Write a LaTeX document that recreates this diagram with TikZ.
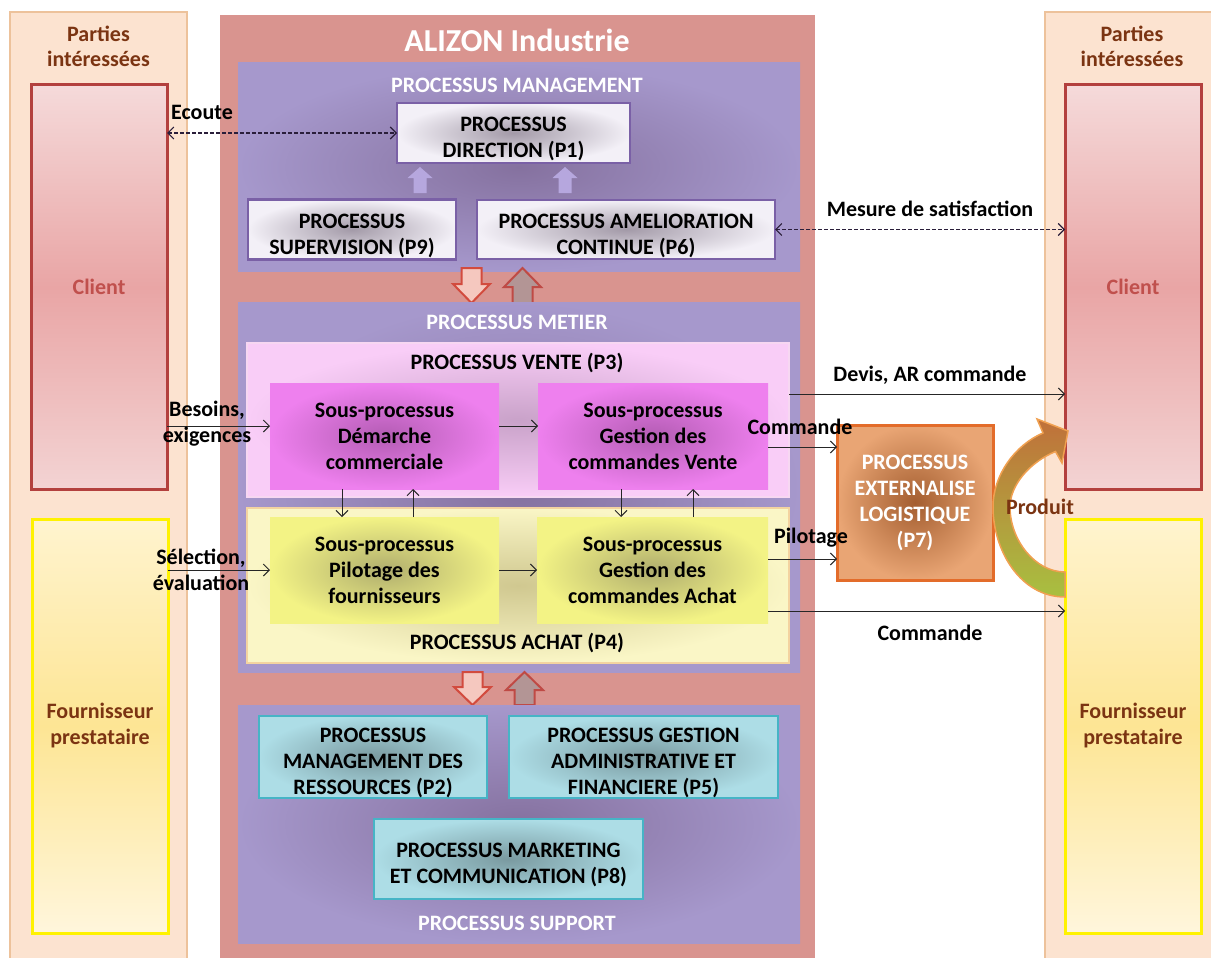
\documentclass[tikz,border=0pt]{standalone}
\usepackage{fontspec}
\setmainfont{Carlito}
\usetikzlibrary{arrows.meta}
\definecolor{alizon}{HTML}{D9948F}
\definecolor{partfill}{HTML}{FCE3D0}
\definecolor{partdraw}{HTML}{EDC29B}
\definecolor{brownT}{HTML}{7B3412}
\definecolor{clientT}{HTML}{C0504D}
\definecolor{clientD}{HTML}{B3403E}
\definecolor{cliTop}{HTML}{F5DADA}
\definecolor{cliMid}{HTML}{E9A5A5}
\definecolor{cliBot}{HTML}{F3D3D3}
\definecolor{foTop}{HTML}{FFF4CF}
\definecolor{foMid}{HTML}{FDE594}
\definecolor{foBot}{HTML}{FFF6DC}
\definecolor{mgmtIn}{HTML}{85719F}
\definecolor{mgmtOut}{HTML}{A698CC}
\definecolor{boxIn}{HTML}{A39AA8}
\definecolor{boxOut}{HTML}{F3F0F7}
\definecolor{boxD}{HTML}{7A60A6}
\definecolor{venIn}{HTML}{C9A2C9}
\definecolor{venOut}{HTML}{F9CDF7}
\definecolor{venD}{HTML}{F7D7F2}
\definecolor{demIn}{HTML}{B45CB4}
\definecolor{demOut}{HTML}{EE80EE}
\definecolor{achIn}{HTML}{D0C890}
\definecolor{achOut}{HTML}{FAF6C6}
\definecolor{achD}{HTML}{F3D3A0}
\definecolor{pilIn}{HTML}{B0AE6E}
\definecolor{pilOut}{HTML}{F3F385}
\definecolor{supIn}{HTML}{7A9AA0}
\definecolor{supOut}{HTML}{ADDDE6}
\definecolor{supD}{HTML}{46B4C6}
\definecolor{extIn}{HTML}{A45E30}
\definecolor{extOut}{HTML}{E9A574}
\definecolor{extD}{HTML}{E36C2A}
\definecolor{lavA}{HTML}{B6A7DE}
\definecolor{redF}{HTML}{F5C8BF}
\definecolor{redD}{HTML}{D24B3E}
\definecolor{upF}{HTML}{B39595}
\definecolor{upD}{HTML}{BF4A45}
\definecolor{dashC}{HTML}{2A1E3A}
\definecolor{prodTop}{HTML}{C0703A}
\definecolor{prodBot}{HTML}{A8C040}
\definecolor{prodD}{HTML}{F0A050}
\newcommand\blkdown[7]{\draw[#1] (#2-#5,#3) -- (#2+#5,#3) -- (#2+#5,#4-#7) -- (#2+#6,#4-#7) -- (#2,#4) -- (#2-#6,#4-#7) -- (#2-#5,#4-#7) -- cycle;}
\newcommand\blkup[7]{\draw[#1] (#2-#5,#4) -- (#2+#5,#4) -- (#2+#5,#3+#7) -- (#2+#6,#3+#7) -- (#2,#3) -- (#2-#6,#3+#7) -- (#2-#5,#3+#7) -- cycle;}
\newcommand\toppad{\rule{0pt}{27pt}}
\begin{document}
\begin{tikzpicture}[x=1pt,y=-1pt,
  every node/.style={font=\bfseries\fontsize{22}{26}\selectfont, inner sep=0pt, outer sep=0pt, align=center},
  wh/.style 2 args={minimum width=#1pt, minimum height=#2pt},
  partpanel/.style={fill=partfill, draw=partdraw, line width=1.5pt},
  clientbox/.style={draw=clientD, line width=3pt, top color=cliTop, bottom color=cliBot, middle color=cliMid, text=clientT},
  fournbox/.style={draw=yellow, line width=3pt, top color=foTop, bottom color=foBot, middle color=foMid, text=brownT},
  ptitle/.style={text=brownT, font=\bfseries\fontsize{22}{25}\selectfont},
  wtitle/.style={text=white},
  mgmtpanel/.style={inner color=mgmtIn, outer color=mgmtOut},
  mbox/.style={inner color=boxIn, outer color=boxOut, draw=boxD, line width=2.5pt},
  ventepanel/.style={inner color=venIn, outer color=venOut, draw=venD, line width=1.5pt},
  dembox/.style={inner color=demIn, outer color=demOut},
  achatpanel/.style={inner color=achIn, outer color=achOut, draw=achD, line width=1.5pt},
  pilbox/.style={inner color=pilIn, outer color=pilOut},
  sbox/.style={inner color=supIn, outer color=supOut, draw=supD, line width=2.5pt},
  extbox/.style={inner color=extIn, outer color=extOut, draw=extD, line width=3pt, text=white},
  conn/.style={-{Straight Barb[length=6pt,width=12pt]}, line width=1pt, draw=black!85},
  dconn/.style={{Straight Barb[length=6pt,width=12pt]}-{Straight Barb[length=6pt,width=12pt]}, dash pattern=on 3.5pt off 2.5pt, line width=1.1pt, draw=dashC},
  lavarrow/.style={fill=lavA, draw=none},
  reddown/.style={fill=redF, draw=redD, line width=2pt},
  redup/.style={fill=upF, draw=upD, line width=2pt}
]
\useasboundingbox (0,0) rectangle (1211,958);
\fill[white] (0,0) rectangle (1211,958);

% side panels
\node[partpanel, wh={177}{950}] (partiesL) at (98.5,487) {};
\node[ptitle] (ptL) at (98.5,46) {Parties\\intéressées};
\node[clientbox, wh={136}{404}] (clientL) at (99,287) {Client};
\node[fournbox, wh={136}{414}] (fournL) at (100,726) {Fournisseur\\prestataire};

\node[partpanel, wh={170}{950}] (partiesR) at (1130,487) {};
\node[ptitle] (ptR) at (1132,46) {Parties\\intéressées};
\node[clientbox, wh={136}{404}] (clientR) at (1133,287) {Client};
\node[fournbox, wh={136}{414}] (fournR) at (1133,726) {Fournisseur\\prestataire};

% main company
\node[fill=alizon, wh={595}{950}] (alizon) at (517.5,490) {};
\node[wtitle, font=\bfseries\fontsize{32}{34}\selectfont] (alTitle) at (517,40) {ALIZON Industrie};

% management
\node[mgmtpanel, wh={562}{208}] (mgmt) at (519,167) {};
\node[wtitle] (mgmtT) at (517,85) {PROCESSUS MANAGEMENT};
\node[mbox, wh={233}{60}] (p1) at (513.5,133) {\toppad PROCESSUS\\DIRECTION (P1)};
\node[mbox, wh={208}{60}] (p9) at (352,229.5) {\toppad PROCESSUS\\SUPERVISION (P9)};
\node[mbox, wh={298}{59}] (p6) at (626,229.5) {\toppad PROCESSUS AMELIORATION\\CONTINUE (P6)};
\blkup{lavarrow}{420}{167}{193}{6.5}{12.5}{11}
\blkup{lavarrow}{565}{167}{193}{6.5}{12.5}{11}

\blkdown{reddown}{471.5}{268}{303}{10}{18.5}{19}
\blkup{redup}{522.5}{268}{303}{10}{18.5}{19}

% metier
\node[mgmtpanel, wh={562}{370}] (metier) at (519,487) {};
\node[wtitle] (metierT) at (517,322) {PROCESSUS METIER};
\node[ventepanel, wh={542}{154}] (vente) at (518,420) {};
\node (venteT) at (517,363) {PROCESSUS VENTE (P3)};
\node[dembox, wh={229}{106}] (dem) at (384.5,436) {Sous-processus\\Démarche\\commerciale};
\node[dembox, wh={230}{106}] (gcv) at (653,436) {Sous-processus\\Gestion des\\commandes Vente};
\node[achatpanel, wh={542}{155}] (achat) at (518,585.5) {};
\node (achatT) at (517,643) {PROCESSUS ACHAT (P4)};
\node[pilbox, wh={229}{106}] (pil) at (384.5,570) {Sous-processus\\Pilotage des\\fournisseurs};
\node[pilbox, wh={231}{106}] (gca) at (652.5,570) {Sous-processus\\Gestion des\\commandes Achat};

\blkdown{reddown}{472.5}{672}{705}{10}{18.5}{18}
\blkup{redup}{524.5}{672}{705}{10}{18.5}{18}

% support
\node[mgmtpanel, wh={562}{238}] (support) at (519,824) {};
\node[sbox, wh={228}{80}] (p2) at (373,757) {\toppad PROCESSUS\\MANAGEMENT DES\\RESSOURCES (P2)};
\node[sbox, wh={269}{80}] (p5) at (643.5,757) {\toppad PROCESSUS GESTION\\ADMINISTRATIVE ET\\FINANCIERE (P5)};
\node[sbox, wh={269}{80}] (p8) at (508.5,859) {\toppad PROCESSUS MARKETING\\ET COMMUNICATION (P8)};
\node[wtitle] (supportT) at (517,923) {PROCESSUS SUPPORT};

% externalised
\node[extbox, wh={156}{155}] (p7) at (915,502.5) {PROCESSUS\\EXTERNALISE\\LOGISTIQUE\\(P7)};

% curved product arrow
\shadedraw[top color=prodTop, bottom color=prodBot, draw=prodD, line width=1.5pt]
 (1065,597) .. controls (1020,597) and (993,550) .. (993,507)
 .. controls (993,475) and (1015,445) .. (1043,433)
 -- (1037,419) -- (1068,431) -- (1062,463) -- (1055.5,451.5)
 .. controls (1030,462) and (1010,485) .. (1010,507)
 .. controls (1010,540) and (1035,572) .. (1065,572) -- cycle;

% connectors
\draw[dconn] (clientL.east |- p1.west) -- (p1.west);
\draw[dconn] (p6.east) -- (clientR.west |- p6.east);
\coordinate (bes) at ([yshift=10pt]dem.west);
\draw[conn] (clientL.east |- bes) -- (bes);
\draw[conn] ([yshift=10pt]dem.east) -- ([yshift=10pt]gcv.west);
\draw[conn] (fournL.east |- pil.west) -- (pil.west);
\draw[conn] (pil.east) -- (gca.west);
\coordinate (d1) at ([xshift=-42.5pt]dem.south);
\coordinate (u1) at ([xshift=28.5pt]dem.south);
\coordinate (d2) at ([xshift=-32pt]gcv.south);
\coordinate (u2) at ([xshift=40pt]gcv.south);
\draw[conn] (d1) -- (d1 |- pil.north);
\draw[conn] (u1 |- pil.north) -- (u1);
\draw[conn] (d2) -- (d2 |- gca.north);
\draw[conn] (u2 |- gca.north) -- (u2);
\coordinate (dv) at ([yshift=42pt]gcv.east);
\draw[conn] (vente.east |- dv) -- (clientR.west |- dv);
\coordinate (cm1) at ([yshift=-11pt]gcv.east);
\draw[conn] (cm1) -- (p7.west |- cm1);
\coordinate (pl) at ([yshift=11pt]gca.east);
\draw[conn] (pl) -- (p7.west |- pl);
\coordinate (cm2) at ([yshift=-41pt]gca.east);
\draw[conn] (cm2) -- (fournR.west |- cm2);

% labels
\node (lEcoute) at (202,112) {Ecoute};
\node (lMesure) at (930,209) {Mesure de satisfaction};
\node (lBes) at (207,424) {Besoins,\\exigences};
\node (lSel) at (201,570) {Sélection,\\évaluation};
\node (lDevis) at (930,375) {Devis, AR commande};
\node (lCmd1) at (800,427) {Commande};
\node (lPil) at (811,538) {Pilotage};
\node (lCmd2) at (930,633) {Commande};
\node[text=brownT] (lProd) at (1040,507) {Produit};
\end{tikzpicture}
\end{document}
